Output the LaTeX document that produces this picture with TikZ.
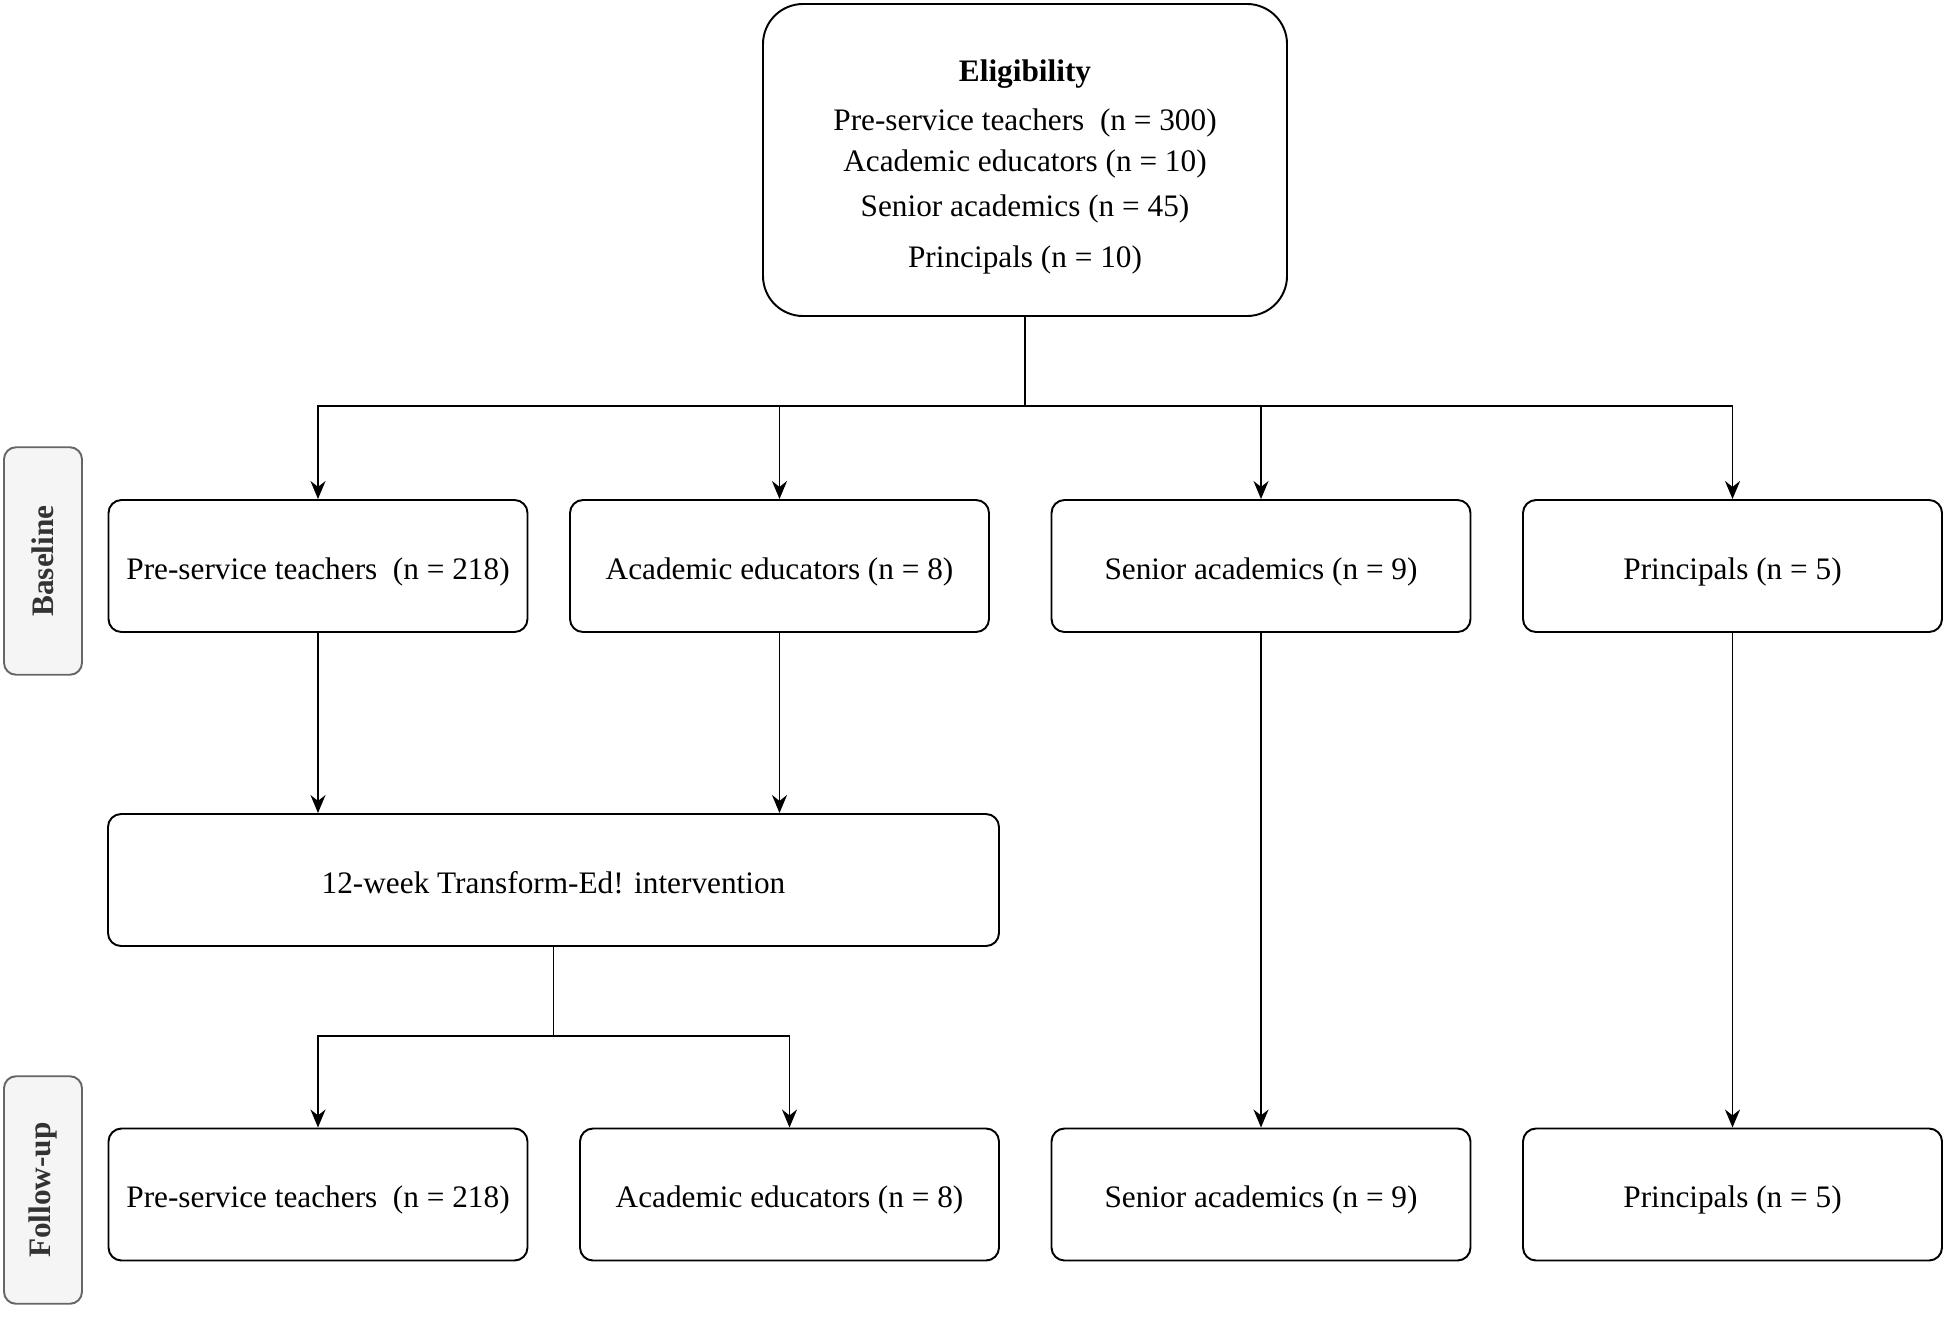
\documentclass[tikz,border=0pt]{standalone}
\usepackage{fontspec}
\setmainfont{Liberation Serif}
\usetikzlibrary{arrows.meta}

\begin{document}
\begin{tikzpicture}
[line width=1.1pt,
box/.style={rectangle,draw,rounded corners=0.26cm,minimum width=8.38cm,minimum height=2.64cm,
            text height=19pt,text depth=4pt},
phase/.style={rectangle,draw=black!60,fill=black!4,rounded corners=0.24cm,
              minimum width=4.55cm,minimum height=1.56cm,rotate=90,
              text=black!80,font=\fontsize{17.8}{21}\selectfont\bfseries},
arrow/.style={-{Stealth[length=0.36cm,width=0.3cm]}}
]
\tikzset{every node/.style={font=\fontsize{17.8}{23.3}\selectfont}}
%\tikzset{every node/.style={font=\Large}}
\useasboundingbox (0,0) rectangle (38.92,-26.32);

\node[rectangle,draw,minimum width=10.48cm,minimum height=6.24cm,rounded corners=0.8cm,align=center] (elig) at (20.5,-3.2)
    {\rule{0pt}{20.5pt}\textbf{Eligibility}\\[4.6pt]
     Pre-service teachers\ \ (n = 300)\\
     Academic educators (n = 10)\\[2.3pt]
     Senior academics (n = 45)\\[5.7pt]
     Principals (n = 10)};

\node[phase] (base) at (0.86,-11.22) {Baseline};
\node[phase] (fup) at (0.86,-23.8) {Follow-up};

\node[box] (pst) at (6.36,-11.32) {Pre-service teachers\ \ (n = 218)};
\node[box] (aed) at (15.59,-11.32) {Academic educators (n = 8)};
\node[box] (sac) at (25.22,-11.32) {Senior academics (n = 9)};
\node[box] (prn) at (34.65,-11.32) {Principals (n = 5)};

\node[box,minimum width=17.82cm] (iv) at (11.07,-17.6) {12-week Transform-Ed! intervention};

\node[box] (pst2) at (6.36,-23.89) {Pre-service teachers\ \ (n = 218)};
\node[box] (aed2) at (15.79,-23.89) {Academic educators (n = 8)};
\node[box] (sac2) at (25.22,-23.89) {Senior academics (n = 9)};
\node[box] (prn2) at (34.65,-23.89) {Principals (n = 5)};

\coordinate (split) at (20.5,-8.12);
\draw (elig) -- (split);
\draw[arrow] (split) -| (pst);
\draw[arrow] (split) -| (aed);
\draw[arrow] (split) -| (sac);
\draw[arrow] (split) -| (prn);

\draw[arrow] (pst) -- (pst |- iv.north);
\draw[arrow] (aed) -- (aed |- iv.north);

\coordinate (join) at (11.07,-20.72);
\draw (iv) -- (join);
\draw[arrow] (join) -| (pst2);
\draw[arrow] (join) -| (aed2);

\draw[arrow] (sac) -- (sac2);
\draw[arrow] (prn) -- (prn2);
\end{tikzpicture}
\end{document}
